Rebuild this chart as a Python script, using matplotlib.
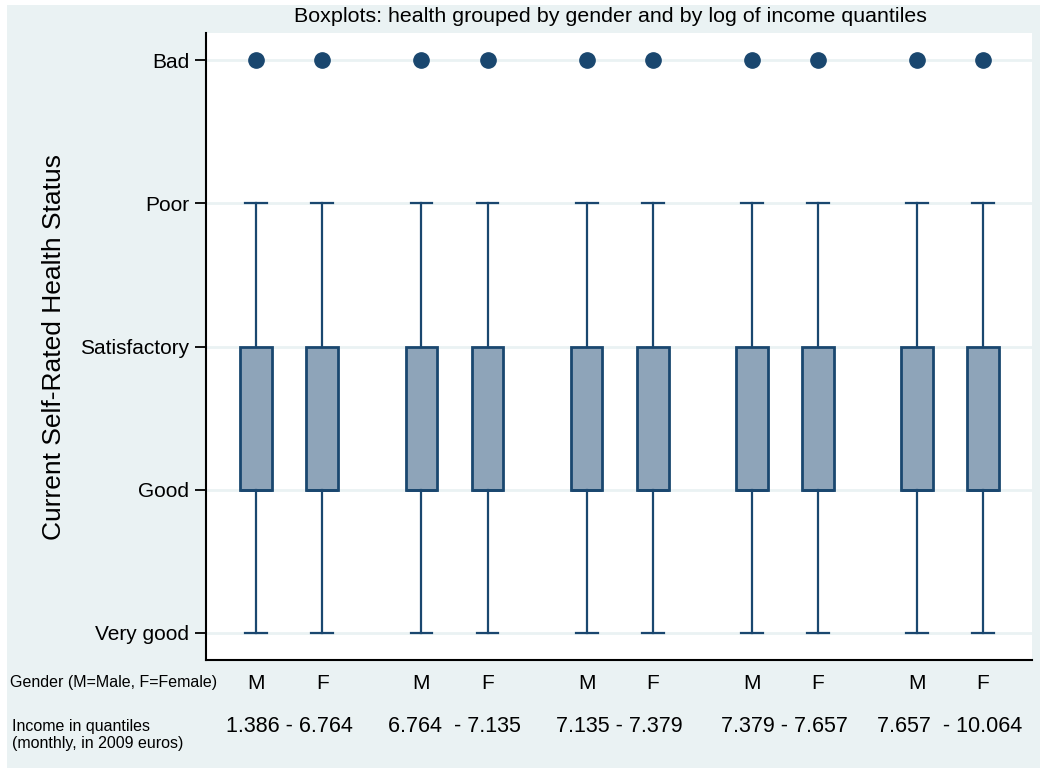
import matplotlib
matplotlib.use("Agg")
import matplotlib.pyplot as plt
from matplotlib.patches import Rectangle
from matplotlib.transforms import blended_transform_factory

plt.rcParams['font.family'] = ['Liberation Sans', 'DejaVu Sans']

# health coded 1=Very good ... 5=Bad
health_labels = ["Very good", "Good", "Satisfactory", "Poor", "Bad"]
genders = ["M", "F", "M", "F", "M", "F", "M", "F", "M", "F"]
income_groups = ["1.386 - 6.764", "6.764  - 7.135", "7.135 - 7.379",
                 "7.379 - 7.657", "7.657  - 10.064"]

whisker_lo = [1, 1, 1, 1, 1, 1, 1, 1, 1, 1]
q1 = [2, 2, 2, 2, 2, 2, 2, 2, 2, 2]
median = [2, 2, 2, 2, 2, 2, 2, 2, 2, 2]
q3 = [3, 3, 3, 3, 3, 3, 3, 3, 3, 3]
whisker_hi = [4, 4, 4, 4, 4, 4, 4, 4, 4, 4]
outliers = [[5], [5], [5], [5], [5], [5], [5], [5], [5], [5]]

navy = "#1a476f"
fill = "#8ea4b9"
bg = "#eaf2f3"

fig = plt.figure(figsize=(10.47, 7.69), dpi=100)
fig.patch.set_facecolor("white")
panel = Rectangle((7 / 1047, 1 / 769), 1033 / 1047, 763 / 769,
                  transform=fig.transFigure, facecolor=bg,
                  edgecolor="none", zorder=-5)
fig.add_artist(panel)

ax = fig.add_axes([206 / 1047, 109 / 769, 826 / 1047, 627 / 769])
ax.set_zorder(2)
ax.set_facecolor("white")

# positions: two boxes per income group, gap between groups
pos = []
for g in range(len(income_groups)):
    pos += [g * 2.5, g * 2.5 + 1]

stats = []
for i in range(len(genders)):
    stats.append(dict(med=median[i], q1=q1[i], q3=q3[i], whislo=whisker_lo[i],
                      whishi=whisker_hi[i], fliers=outliers[i]))

for y in range(1, 6):
    ax.axhline(y, color=bg, lw=2, zorder=0)

ax.bxp(stats, positions=pos, widths=0.48, patch_artist=True, showcaps=True,
       boxprops=dict(facecolor=fill, edgecolor=navy, linewidth=2.0),
       medianprops=dict(color=navy, linewidth=2.0),
       whiskerprops=dict(color=navy, linewidth=1.6),
       capprops=dict(color=navy, linewidth=1.6),
       capwidths=0.33,
       flierprops=dict(marker="o", markerfacecolor=navy, markeredgecolor=navy,
                       markersize=11))

ax.set_xlim(-0.76, 11.74)
ax.set_ylim(0.81, 5.19)
ax.set_yticks(range(1, 6))
ax.set_yticklabels(health_labels, fontsize=15)
ax.tick_params(axis="y", length=8, width=1.3, pad=4)
ax.set_xticks(pos)
ax.set_xticklabels(genders, fontsize=15)
ax.tick_params(axis="x", length=0, pad=10)
for s in ["top", "right"]:
    ax.spines[s].set_visible(False)
for s in ["left", "bottom"]:
    ax.spines[s].set_linewidth(1.5)

ax.set_ylabel("Current Self-Rated Health Status", fontsize=19, labelpad=10)
fig.text(610 / 1047, 1 - 17 / 769,
         "Boxplots: health grouped by gender and by log of income quantiles",
         ha="center", va="center", fontsize=15.4)

trans = blended_transform_factory(ax.transData, fig.transFigure)
for g, lab in enumerate(income_groups):
    ax.text(g * 2.5 + 0.5, 1 - 726 / 769, lab, transform=trans,
            ha="center", va="center", fontsize=15.5)

fig.text(10 / 1047, 1 - 682 / 769, "Gender (M=Male, F=Female)",
         ha="left", va="center", fontsize=11.5)
fig.text(12 / 1047, 1 - 735 / 769, "Income in quantiles\n(monthly, in 2009 euros)",
         ha="left", va="center", fontsize=11.5, linespacing=1.1)

fig.savefig("out.png", dpi=100, facecolor=fig.get_facecolor())
